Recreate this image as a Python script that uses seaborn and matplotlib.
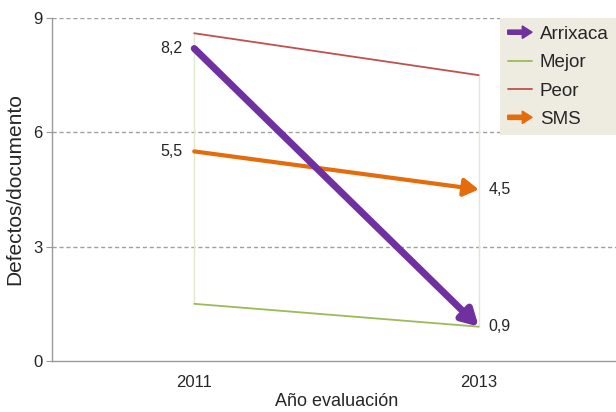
import numpy as np
import pandas as pd
import matplotlib
matplotlib.use("Agg")
import matplotlib.pyplot as plt
import matplotlib.patches as mpatches
from matplotlib.lines import Line2D
from matplotlib.legend_handler import HandlerPatch
import seaborn as sns

# data
anios = [2011, 2013]
arrixaca = [8.2, 0.9]
mejor = [1.5, 0.9]
peor = [8.6, 7.5]
sms = [5.5, 4.5]

colores = {"Arrixaca": "#7030a0", "Mejor": "#9bbb59", "Peor": "#c0504d", "SMS": "#e46c0a"}


class HandlerArrow(HandlerPatch):
    def create_artists(self, legend, orig_handle, xdescent, ydescent, width, height, fontsize, trans):
        p = mpatches.FancyArrow(0, height / 2, width, 0, width=height * 0.32,
                                head_width=height * 0.95, head_length=height * 0.75,
                                length_includes_head=True, color=orig_handle.get_facecolor())
        p.set_transform(trans)
        return [p]


sns.set_style("white")
plt.rcParams["font.family"] = ["Liberation Sans", "DejaVu Sans"]

fig = plt.figure(figsize=(6.16, 4.12), dpi=100)
ax = fig.add_axes([0.0844, 0.1238, 0.9237, 0.8325])

# high-low lines
ax.vlines(anios, np.minimum(mejor, peor), np.maximum(mejor, peor), color="#e3e8cc", lw=1, zorder=1)

df = pd.DataFrame({"anio": anios * 2, "valor": mejor + peor,
                   "serie": ["Mejor"] * 2 + ["Peor"] * 2})
sns.lineplot(data=df, x="anio", y="valor", hue="serie", palette=colores,
             linewidth=1.3, legend=False, ax=ax, zorder=3)

# thick arrows
for vals, nombre, lw, hs in [(sms, "SMS", 3.0, "head_length=0.75,head_width=0.45"),
                             (arrixaca, "Arrixaca", 5.0, "head_length=0.8,head_width=0.45")]:
    ax.annotate("", xy=(anios[1], vals[1]), xytext=(anios[0], vals[0]),
                arrowprops=dict(arrowstyle="-|>," + hs, lw=lw, color=colores[nombre],
                                shrinkA=0, shrinkB=0, mutation_scale=12),
                zorder=4)

# value labels
ax.text(anios[0] - 0.085, arrixaca[0], "8,2", ha="right", va="center", fontsize=11.5)
ax.text(anios[0] - 0.085, sms[0], "5,5", ha="right", va="center", fontsize=11.5)
ax.text(anios[1] + 0.07, sms[1], "4,5", ha="left", va="center", fontsize=11.5)
ax.text(anios[1] + 0.07, arrixaca[1], "0,9", ha="left", va="center", fontsize=11.5)

ax.set_xlim(2010, 2014)
ax.set_ylim(0, 9)
ax.set_xticks(anios)
ax.set_xticklabels([str(a) for a in anios])
ax.set_yticks([0, 3, 6, 9])
for v in [3, 6, 9]:
    ax.axhline(v, color="#a0a0a0", lw=1, ls=(0, (3, 2)), zorder=0)

sns.despine(ax=ax, top=True, right=True)
for s in ["left", "bottom"]:
    ax.spines[s].set_color("#9a9a9a")
    ax.spines[s].set_linewidth(1)
ax.tick_params(axis="y", length=4, color="#9a9a9a", labelsize=12, pad=3, left=True)
ax.tick_params(axis="x", length=0, labelsize=12, pad=10)
ax.set_xlabel("Año evaluación", fontsize=13, labelpad=2)
ax.set_ylabel("Defectos/documento", fontsize=15, labelpad=6)

h_arr = mpatches.Patch(color=colores["Arrixaca"])
h_sms = mpatches.Patch(color=colores["SMS"])
handles = [h_arr, Line2D([], [], color=colores["Mejor"], lw=1.3),
           Line2D([], [], color=colores["Peor"], lw=1.3), h_sms]
leg = fig.legend(handles, ["Arrixaca", "Mejor", "Peor", "SMS"],
                 loc="upper right", bbox_to_anchor=(1.0, 0.956), bbox_transform=fig.transFigure,
                 borderaxespad=0, frameon=True, fancybox=False, facecolor="#eeece1",
                 edgecolor="none", framealpha=1, fontsize=13.5, handlelength=1.3,
                 labelspacing=0.6, handletextpad=0.4, borderpad=0.4,
                 handler_map={h_arr: HandlerArrow(), h_sms: HandlerArrow()})

fig.savefig("out.png", dpi=100)
